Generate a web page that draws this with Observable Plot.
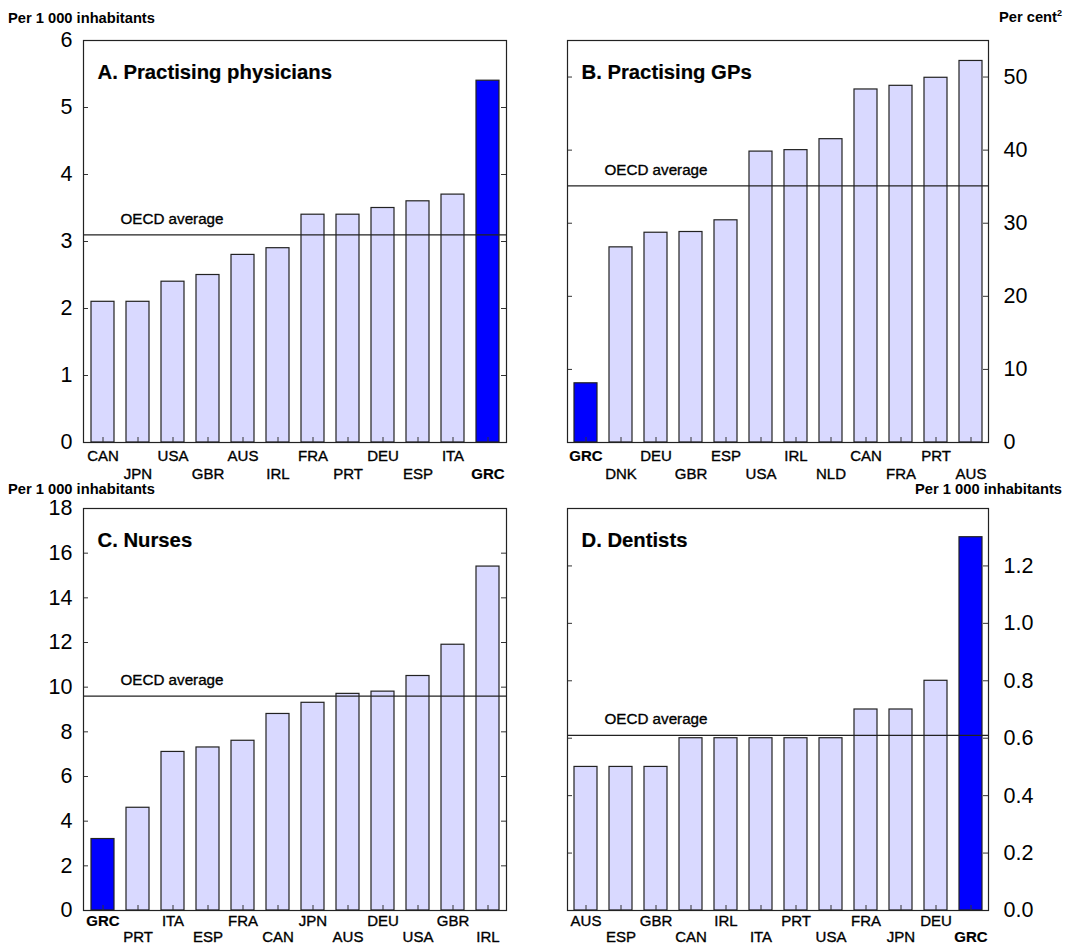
<!DOCTYPE html>
<html>
<head>
<meta charset="utf-8">
<script src="https://cdn.jsdelivr.net/npm/d3@7"></script>
<script src="https://cdn.jsdelivr.net/npm/@observablehq/plot@0.6"></script>
<style>
  body { margin: 0; background: #fff; }
  #root { position: relative; width: 1065px; height: 945px; font-family: "Liberation Sans", Arial, sans-serif; }
  .panel { position: absolute; }
  .unit { position: absolute; font-size: 14.7px; font-weight: bold; color: #000; white-space: nowrap; }
</style>
</head>
<body>
<div id="root"></div>
<script>
// ---- Data ----
const physCountries = ["CAN","JPN","USA","GBR","AUS","IRL","FRA","PRT","DEU","ESP","ITA","GRC"];
const physValues    = [2.1, 2.1, 2.4, 2.5, 2.8, 2.9, 3.4, 3.4, 3.5, 3.6, 3.7, 5.4];
const physOECD = 3.1;
const physTicks = [0,1,2,3,4,5,6];

const gpCountries = ["GRC","DNK","DEU","GBR","ESP","USA","IRL","NLD","CAN","FRA","PRT","AUS"];
const gpValues    = [8.1, 26.7, 28.7, 28.8, 30.4, 39.8, 40.0, 41.5, 48.3, 48.8, 49.9, 52.2];
const gpOECD = 35.1;
const gpTicks = [0,10,20,30,40,50];

const nurseCountries = ["GRC","PRT","ITA","ESP","FRA","CAN","JPN","AUS","DEU","USA","GBR","IRL"];
const nurseValues    = [3.2, 4.6, 7.1, 7.3, 7.6, 8.8, 9.3, 9.7, 9.8, 10.5, 11.9, 15.4];
const nurseOECD = 9.6;
const nurseTicks = [0,2,4,6,8,10,12,14,16,18];

const dentCountries = ["AUS","ESP","GBR","CAN","IRL","ITA","PRT","USA","FRA","JPN","DEU","GRC"];
const dentValues    = [0.5, 0.5, 0.5, 0.6, 0.6, 0.6, 0.6, 0.6, 0.7, 0.7, 0.8, 1.3];
const dentOECD = 0.61;
const dentTicks = [0,0.2,0.4,0.6,0.8,1.0,1.2,1.4];
const dentTickLabels = ["0.0","0.2","0.4","0.6","0.8","1.0","1.2",""];

const titles = ["A. Practising physicians","B. Practising GPs","C. Nurses","D. Dentists"];
const highlight = "GRC";

// ---- Drawing ----
const root = document.getElementById("root");
const LIGHT = "#d9d9ff", BLUE = "#0000ff";
const thick = {stroke: "#000", strokeWidth: 0.35, fill: "#000"};

function panel({countries, values, oecd, ticks, tickFmt, yMax, title, side, left, top, width, height, mL, mR, mT, mB, dyEven, dyOdd}) {
  const data = countries.map((c, i) => ({c, v: values[i], i}));
  const pw = width - mL - mR, ph = height - mT - mB;
  const gi = countries.indexOf(highlight);
  const marks = [
    Plot.barY(data, {x: "c", y: "v", fill: d => d.c === highlight ? BLUE : LIGHT, stroke: "#222", strokeWidth: 1.2}),
    Plot.ruleX(data, {x: "c", stroke: "#333", strokeWidth: 1, insetTop: ph - 5}),
    Plot.ruleY([oecd], {stroke: "#222", strokeWidth: 1.2}),
    Plot.text([oecd], {y: d => d, text: () => "OECD average", frameAnchor: "left", textAnchor: "start", lineAnchor: "bottom", dx: 37, dy: -11, fontSize: 15.2, ...thick}),
    Plot.text([title], {text: d => d, frameAnchor: "top-left", textAnchor: "start", lineAnchor: "bottom", dx: 14, dy: 38, fontSize: 20.3, fontWeight: "bold", fill: "#000", stroke: "#000", strokeWidth: 0.2}),
    // inward ticks on both sides
    Plot.ruleY(ticks, {y: d => d, stroke: "#333", insetRight: pw - 5}),
    Plot.ruleY(ticks, {y: d => d, stroke: "#333", insetLeft: pw - 5}),
    // y tick labels
    Plot.axisY({anchor: side, ticks, tickFormat: tickFmt, tickSize: 0, tickPadding: side === "left" ? 11 : 15, fontSize: 21.5, label: null, ...thick}),
    // x labels, alternating rows
    Plot.text(data, {filter: d => d.i % 2 === 0 && d.c !== highlight, x: "c", text: "c", frameAnchor: "bottom", lineAnchor: "top", dy: dyEven, fontSize: 15, ...thick}),
    Plot.text(data, {filter: d => d.i % 2 === 1 && d.c !== highlight, x: "c", text: "c", frameAnchor: "bottom", lineAnchor: "top", dy: dyOdd, fontSize: 15, ...thick}),
    Plot.text(data, {filter: d => d.c === highlight, x: "c", text: "c", frameAnchor: "bottom", lineAnchor: "top", dy: gi % 2 === 0 ? dyEven : dyOdd, fontSize: 15, fontWeight: "bold", fill: "#000", stroke: "#000", strokeWidth: 0.2}),
    Plot.frame({stroke: "#222", strokeWidth: 1.2})
  ];
  const svg = Plot.plot({
    width, height,
    marginLeft: mL, marginRight: mR, marginTop: mT, marginBottom: mB,
    style: {fontFamily: "'Liberation Sans', Arial, sans-serif", background: "transparent", overflow: "visible"},
    x: {domain: countries, paddingInner: 0.35, paddingOuter: 0.175, axis: null},
    y: {domain: [0, yMax], axis: null},
    marks
  });
  svg.classList.add("panel");
  svg.style.left = left + "px";
  svg.style.top = top + "px";
  root.appendChild(svg);
}

panel({countries: physCountries, values: physValues, oecd: physOECD, ticks: physTicks, tickFmt: d => String(d), yMax: 6,
  title: titles[0], side: "left", left: 0, top: 30, width: 532, height: 457, mL: 83, mR: 26, mT: 10, mB: 45, dyEven: 8, dyOdd: 26});
panel({countries: gpCountries, values: gpValues, oecd: gpOECD, ticks: gpTicks, tickFmt: d => String(d), yMax: 55,
  title: titles[1], side: "right", left: 532, top: 30, width: 533, height: 457, mL: 35, mR: 77, mT: 10, mB: 45, dyEven: 8, dyOdd: 26});
panel({countries: nurseCountries, values: nurseValues, oecd: nurseOECD, ticks: nurseTicks, tickFmt: d => String(d), yMax: 18,
  title: titles[2], side: "left", left: 0, top: 498, width: 532, height: 447, mL: 83, mR: 26, mT: 10, mB: 35, dyEven: 5, dyOdd: 21});
panel({countries: dentCountries, values: dentValues, oecd: dentOECD, ticks: dentTicks, tickFmt: (d, i) => dentTickLabels[dentTicks.indexOf(d)], yMax: 1.4,
  title: titles[3], side: "right", left: 532, top: 498, width: 533, height: 447, mL: 35, mR: 77, mT: 10, mB: 35, dyEven: 5, dyOdd: 21});

// unit labels
function unit(text, css) {
  const d = document.createElement("div");
  d.className = "unit";
  d.innerHTML = text;
  Object.assign(d.style, css);
  root.appendChild(d);
}
unit("Per 1 000 inhabitants", {left: "8px", top: "10px"});
unit("Per cent<sup style='font-size:9px'>2</sup>", {right: "3px", top: "8px"});
unit("Per 1 000 inhabitants", {left: "8px", top: "481px"});
unit("Per 1 000 inhabitants", {right: "3px", top: "481px"});
</script>
</body>
</html>
